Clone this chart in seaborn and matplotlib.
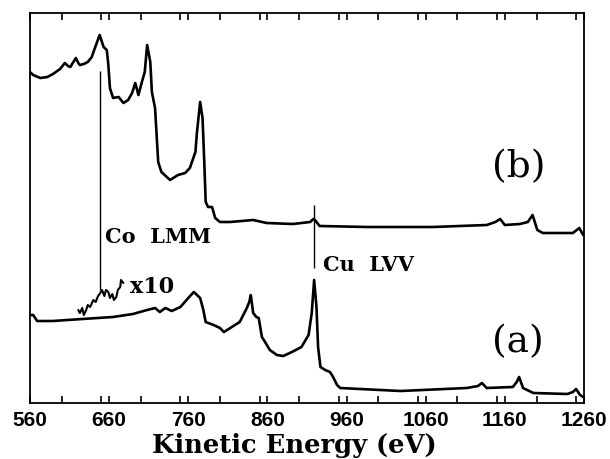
import numpy as np
import pandas as pd
import matplotlib
matplotlib.use("Agg")
import matplotlib.pyplot as plt
import seaborn as sns
from matplotlib.ticker import MultipleLocator

# Spectrum (b): upper trace, kinetic energy (eV) vs. intensity (arb. units)
energy_b = [560, 564, 573, 582, 589, 598, 604, 608, 611, 614, 618, 621, 623, 628,
            633, 638, 642, 648, 653, 657, 659, 661, 665, 672, 678, 684, 689, 693,
            697, 701, 705, 708, 712, 714, 718, 720, 722, 726, 737, 747, 756, 762,
            769, 771, 775, 778, 780, 782, 785, 790, 794, 800, 813, 842, 859, 892,
            914, 918, 920, 926, 986, 1069, 1137, 1148, 1154, 1160, 1179, 1189,
            1195, 1201, 1208, 1246, 1254, 1259]
intensity_b = [331, 328, 325, 326, 329, 334, 340, 337, 336, 340, 345, 340, 338, 339,
               341, 346, 355, 368, 356, 353, 338, 315, 305, 306, 300, 303, 310, 320,
               308, 320, 331, 358, 341, 311, 295, 268, 241, 231, 223, 228, 230, 235,
               251, 271, 301, 285, 245, 201, 196, 196, 185, 181, 181, 183, 180, 179,
               181, 184, 183, 177, 176, 176, 178, 181, 184, 178, 179, 181,
               188, 173, 170, 170, 175, 168]

# Spectrum (a): lower trace
energy_a = [561, 564, 569, 589, 626, 665, 690, 708, 718, 724, 731, 739, 750, 760,
            767, 775, 779, 782, 792, 800, 805, 813, 825, 834, 837, 839, 842, 846,
            849, 853, 857, 863, 872, 880, 891, 903, 912, 916, 919, 922, 924, 927,
            933, 939, 943, 948, 952, 1028, 1112, 1126, 1131, 1137, 1170, 1175,
            1178, 1183, 1196, 1239, 1246, 1250, 1255, 1259]
intensity_a = [88, 88, 82, 82, 84, 86, 89, 93, 95, 91, 95, 92, 96, 105,
               111, 105, 93, 81, 78, 75, 71, 75, 81, 95, 101, 108, 90, 86,
               85, 66, 61, 53, 48, 47, 51, 56, 68, 90, 123, 96, 56, 36,
               33, 31, 26, 18, 15, 12, 15, 17, 20, 15, 16, 21,
               26, 15, 10, 9, 11, 14, 8, 6]

# Co LMM region of spectrum (a), magnified x10
energy_x10 = [621, 623, 626, 628, 631, 633, 636, 640, 643, 646, 648, 651, 654,
              656, 659, 661, 664, 666, 669, 671, 674, 675, 678]
intensity_x10 = [93, 90, 95, 88, 93, 98, 96, 103, 101, 107, 109, 113, 107,
                 113, 111, 105, 109, 103, 106, 113, 116, 123, 120]

# Peak marker lines: (energy, bottom, top)
co_marker = (648, 113, 332)
cu_marker = (919, 135, 198)

x_ticks = [560, 660, 760, 860, 960, 1060, 1160, 1260]

sns.set_style("ticks")
plt.rcParams["font.family"] = ["DejaVu Serif"]
plt.rcParams["text.color"] = "black"
plt.rcParams["axes.labelcolor"] = "black"
plt.rcParams["xtick.color"] = "black"

fig = plt.figure(figsize=(6.1, 4.59), dpi=100)
ax = fig.add_axes([30 / 610, 56 / 459, 554 / 610, 390 / 459])

df_b = pd.DataFrame({"energy": energy_b, "intensity": intensity_b})
df_a = pd.DataFrame({"energy": energy_a, "intensity": intensity_a})
df_x10 = pd.DataFrame({"energy": energy_x10, "intensity": intensity_x10})

for df, lw in ((df_b, 1.9), (df_a, 1.9), (df_x10, 1.5)):
    sns.lineplot(data=df, x="energy", y="intensity", ax=ax, color="black",
                 linewidth=lw, sort=False, estimator=None)

for e, lo, hi in (co_marker, cu_marker):
    ax.vlines(e, lo, hi, color="black", linewidth=1.0)

ax.set_xlim(560, 1260)
ax.set_ylim(0, 390)
ax.set_yticks([])
ax.set_ylabel("")
ax.xaxis.set_minor_locator(MultipleLocator(50))
ax.set_xticks(x_ticks)
ax.tick_params(axis="x", which="both", direction="in", length=5, width=1.2,
               top=True, bottom=True, color="black")
ax.tick_params(axis="x", which="major", pad=6)
for lbl in ax.get_xticklabels():
    lbl.set_fontfamily("Liberation Sans")
    lbl.set_fontweight("bold")
    lbl.set_fontsize(15)

for s in ax.spines.values():
    s.set_linewidth(1.3)
    s.set_color("black")

ax.set_xlabel("Kinetic Energy (eV)", fontsize=18.5, fontweight="bold")
ax.xaxis.set_label_coords(0.477, -0.078)

ax.text(655, 166, "Co  LMM", fontsize=15, fontweight="bold", va="center", ha="left")
ax.text(930, 138, "Cu  LVV", fontsize=15, fontweight="bold", va="center", ha="left")
ax.text(686, 116, "x10", fontsize=16, fontweight="bold", va="center", ha="left")
ax.text(1177, 236, "(b)", fontsize=27, va="center", ha="center")
ax.text(1177, 61, "(a)", fontsize=27, va="center", ha="center")

fig.savefig("out.png", dpi=100)
